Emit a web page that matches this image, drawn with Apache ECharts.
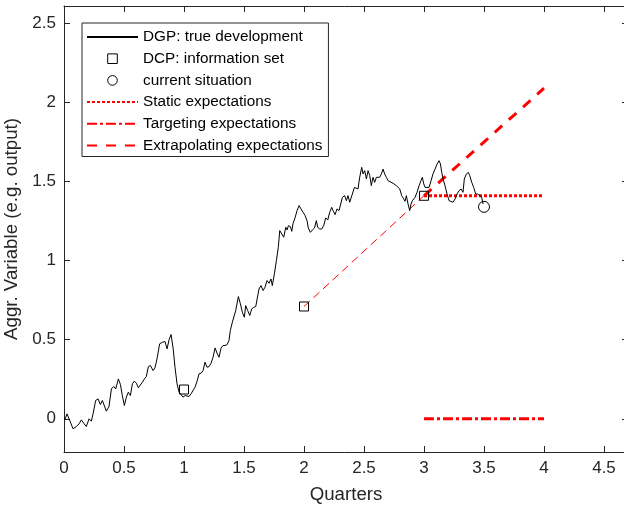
<!DOCTYPE html>
<html>
<head>
<meta charset="utf-8">
<script src="https://cdn.jsdelivr.net/npm/echarts@6/dist/echarts.min.js"></script>
<style>
  html, body { margin: 0; padding: 0; background: #fff; }
  #chart { width: 624px; height: 511px; }
</style>
</head>
<body>
<div id="chart"></div>
<script>
// Simulated aggregate variable: quarters (x) and level (y) of the true path
const dgpQuarters = [
  0.006,0.025,0.048,0.075,0.103,0.125,0.145,0.164,0.186,0.209,
  0.228,0.242,0.264,0.284,0.303,0.320,0.336,0.353,0.375,0.395,
  0.414,0.431,0.453,0.470,0.486,0.503,0.520,0.536,0.553,0.570,
  0.586,0.603,0.620,0.636,0.653,0.670,0.686,0.703,0.720,0.742,
  0.758,0.775,0.797,0.820,0.842,0.859,0.875,0.892,0.909,0.925,
  0.942,0.959,0.975,0.992,1.009,1.025,1.042,1.059,1.075,1.092,
  1.109,1.125,1.142,1.159,1.175,1.192,1.209,1.225,1.242,1.259,
  1.275,1.292,1.309,1.325,1.342,1.359,
  1.375,1.386,1.403,1.414,1.431,1.453,1.470,1.486,1.503,1.514,
  1.531,1.548,1.564,1.581,1.598,1.614,1.625,1.642,1.659,1.675,
  1.692,1.709,1.725,1.736,1.753,1.770,1.786,1.798,1.814,1.831,
  1.848,1.859,1.870,1.887,1.898,1.909,1.925,1.942,1.959,1.975,
  1.992,2.009,2.025,2.036,2.053,2.070,2.087,2.103,2.114,2.131,
  2.148,2.164,2.181,2.198,2.214,2.231,2.242,2.259,2.275,2.292,
  2.320,2.339,2.353,2.367,2.381,2.403,2.420,2.436,2.450,2.464,
  2.481,2.492,2.506,2.520,2.534,2.548,2.561,2.575,2.589,2.603,
  2.617,2.631,2.645,2.659,2.672,2.686,2.700,2.714,2.742,2.770,
  2.798,2.814,2.831,2.842,2.853,2.867,2.881,2.892,2.903,2.914,
  2.925,2.942,2.959,2.975,2.986,2.998,3.009,3.025,3.042,3.059,
  3.075,3.092,3.109,3.125,3.137,3.148,3.159,3.175,3.192,3.209,
  3.225,3.242,3.259,3.275,3.292,3.309,3.325,3.336,3.353,3.370,
  3.381,3.398,3.414,3.431,3.448,3.464,3.481,3.492
];
const dgpValues = [
  -0.007,0.031,-0.011,-0.063,-0.049,-0.032,-0.007,-0.028,-0.049,0.000,
  -0.015,0.031,0.116,0.126,0.090,0.116,0.120,0.048,0.078,0.189,
  0.204,0.189,0.252,0.217,0.147,0.084,0.137,0.168,0.147,0.221,
  0.238,0.225,0.196,0.204,0.231,0.252,0.267,0.330,0.337,0.305,
  0.322,0.379,0.474,0.484,0.488,0.442,0.499,0.533,0.448,0.326,
  0.221,0.168,0.158,0.137,0.147,0.137,0.141,0.158,0.168,0.200,
  0.238,0.284,0.288,0.305,0.358,0.326,0.330,0.351,0.389,0.448,
  0.415,0.389,0.448,0.463,0.463,0.469,
  0.495,0.558,0.611,0.621,0.684,0.773,0.727,0.674,0.642,0.716,
  0.684,0.653,0.695,0.705,0.710,0.710,0.821,0.842,0.811,0.832,
  0.874,0.857,0.884,0.842,0.916,1.000,1.085,1.190,1.200,1.148,
  1.211,1.194,1.221,1.215,1.185,1.236,1.270,1.316,1.348,1.327,
  1.306,1.285,1.253,1.206,1.179,1.194,1.206,1.253,1.211,1.200,
  1.200,1.221,1.270,1.257,1.306,1.337,1.316,1.291,1.327,1.316,
  1.400,1.411,1.379,1.411,1.369,1.421,1.463,1.474,1.453,1.527,
  1.590,1.548,1.569,1.516,1.569,1.537,1.474,1.527,1.495,1.527,
  1.537,1.527,1.548,1.579,1.548,1.527,1.506,1.495,1.489,1.474,
  1.453,1.411,1.390,1.375,1.411,1.358,1.316,1.358,1.379,1.369,
  1.400,1.432,1.474,1.506,1.527,1.485,1.463,1.474,1.463,1.506,
  1.548,1.579,1.611,1.632,1.611,1.558,1.516,1.474,1.421,1.379,
  1.369,1.369,1.390,1.421,1.442,1.453,1.432,1.516,1.548,1.558,
  1.537,1.495,1.463,1.421,1.421,1.421,1.400,1.358
];

// Information set observed at quarter ends, and the current situation
const infoSetQuarters = [1, 2, 3];
const infoSetValues = [0.185, 0.71, 1.41];
const currentQuarters = [3.5];
const currentValues = [1.34];

// Expectation paths over the next quarter
const forecastQuarters = [3, 4];
const staticValues = [1.41, 1.41];
const targetingValues = [0, 0];
const extrapolatingValues = [1.41, 2.09];
// Trend between the last two information points
const trendQuarters = [2, 3];
const trendValues = [0.71, 1.41];

// Axis ticks
const xTicks = [0, 0.5, 1, 1.5, 2, 2.5, 3, 3.5, 4, 4.5];
const yTicks = [0, 0.5, 1, 1.5, 2, 2.5];
const xRange = [0, 4.7];
const yRange = [-0.21, 2.61];

const seriesNames = [
  'DGP: true development',
  'DCP: information set',
  'current situation',
  'Static expectations',
  'Targeting expectations',
  'Extrapolating expectations'
];

const FONT = '"Liberation Sans", Arial, Helvetica, sans-serif';
const AXIS_COLOR = '#262626';
const RED = '#ff0000';

const zip = (xs, ys) => xs.map((x, i) => [x, ys[i]]);
const fmt = v => String(Math.round(v * 10) / 10);

function frameAxis(extra) {
  return Object.assign({
    type: 'value',
    axisLine: { show: true, onZero: false, lineStyle: { color: AXIS_COLOR, width: 1 } },
    axisTick: { show: true, inside: true, length: 6, lineStyle: { color: AXIS_COLOR, width: 1 } },
    splitLine: { show: false },
    axisPointer: { show: false }
  }, extra);
}

const chart = echarts.init(document.getElementById('chart'), null, { renderer: 'canvas' });

chart.setOption({
  animation: false,
  backgroundColor: '#fff',
  grid: { left: 64, right: -4, top: 6, bottom: 59, containLabel: false, outerBoundsMode: 'none' },
  xAxis: [
    frameAxis({
      min: xRange[0], max: xRange[1], position: 'bottom',
      name: 'Quarters', nameLocation: 'middle', nameGap: 33,
      nameTextStyle: { fontSize: 18.7, color: AXIS_COLOR, fontFamily: FONT },
      axisTick: { show: true, inside: true, length: 6, customValues: xTicks, lineStyle: { color: AXIS_COLOR, width: 1 } },
      axisLabel: { customValues: xTicks, fontSize: 17, color: AXIS_COLOR, fontFamily: FONT, margin: 8, formatter: fmt }
    }),
    frameAxis({
      min: xRange[0], max: xRange[1], position: 'top',
      axisTick: { show: true, inside: true, length: 6, customValues: xTicks, lineStyle: { color: AXIS_COLOR, width: 1 } },
      axisLabel: { show: false }
    })
  ],
  yAxis: [
    frameAxis({
      min: yRange[0], max: yRange[1], position: 'left',
      name: 'Aggr. Variable (e.g. output)', nameLocation: 'middle', nameGap: 36,
      nameTextStyle: { fontSize: 18.7, color: AXIS_COLOR, fontFamily: FONT },
      axisTick: { show: true, inside: true, length: 6, customValues: yTicks, lineStyle: { color: AXIS_COLOR, width: 1 } },
      axisLabel: { customValues: yTicks, fontSize: 17, color: AXIS_COLOR, fontFamily: FONT, margin: 8, formatter: fmt }
    }),
    frameAxis({
      min: yRange[0], max: yRange[1], position: 'right',
      axisTick: { show: true, inside: true, length: 6, customValues: yTicks, lineStyle: { color: AXIS_COLOR, width: 1 } },
      axisLabel: { show: false }
    })
  ],
  legend: {
    orient: 'vertical',
    left: 82, top: 23,
    itemWidth: 51, itemHeight: 12, itemGap: 5.7,
    padding: [6, 6, 3, 4],
    backgroundColor: '#fff',
    borderColor: AXIS_COLOR, borderWidth: 1, borderRadius: 0,
    selectedMode: false,
    textStyle: { fontSize: 15.3, color: '#000', fontFamily: FONT, lineHeight: 16 },
    data: [
      { name: seriesNames[0], itemStyle: { opacity: 0 } },
      { name: seriesNames[1], itemStyle: { borderWidth: 1 } },
      { name: seriesNames[2], itemStyle: { borderWidth: 1 } },
      { name: seriesNames[3], itemStyle: { opacity: 0 } },
      { name: seriesNames[4], itemStyle: { opacity: 0 } },
      { name: seriesNames[5], itemStyle: { opacity: 0 } }
    ]
  },
  series: [
    {
      name: seriesNames[0], type: 'line', silent: true,
      data: zip(dgpQuarters, dgpValues),
      symbol: 'none', showSymbol: false,
      lineStyle: { color: '#000', width: 1 },
      itemStyle: { color: '#000' },
      z: 3
    },
    {
      name: 'trend', type: 'line', silent: true,
      data: zip(trendQuarters, trendValues),
      symbol: 'none', showSymbol: false,
      lineStyle: { color: RED, width: 1, type: [8, 5] },
      z: 2
    },
    {
      name: seriesNames[3], type: 'line', silent: true,
      data: zip(forecastQuarters, staticValues),
      symbol: 'none', showSymbol: false,
      lineStyle: { color: RED, width: 3, type: [3, 2], cap: 'butt' },
      itemStyle: { color: RED },
      z: 2
    },
    {
      name: seriesNames[4], type: 'line', silent: true,
      data: zip(forecastQuarters, targetingValues),
      symbol: 'none', showSymbol: false,
      lineStyle: { color: RED, width: 3, type: [10, 3, 3, 3], cap: 'butt' },
      itemStyle: { color: RED },
      z: 2
    },
    {
      name: seriesNames[5], type: 'line', silent: true,
      data: zip(forecastQuarters, extrapolatingValues),
      symbol: 'none', showSymbol: false,
      lineStyle: { color: RED, width: 3, type: [10, 9], cap: 'butt' },
      itemStyle: { color: RED },
      z: 2
    },
    {
      name: seriesNames[1], type: 'line', silent: true,
      data: zip(infoSetQuarters, infoSetValues),
      symbol: 'rect', symbolSize: 9, showSymbol: true,
      lineStyle: { opacity: 0, color: '#000' },
      itemStyle: { color: 'rgba(0,0,0,0)', borderColor: '#000', borderWidth: 1 },
      z: 5
    },
    {
      name: seriesNames[2], type: 'line', silent: true,
      data: zip(currentQuarters, currentValues),
      symbol: 'circle', symbolSize: 11, showSymbol: true,
      lineStyle: { opacity: 0, color: '#000' },
      itemStyle: { color: 'rgba(0,0,0,0)', borderColor: '#000', borderWidth: 1 },
      z: 5
    }
  ]
});
</script>
</body>
</html>
